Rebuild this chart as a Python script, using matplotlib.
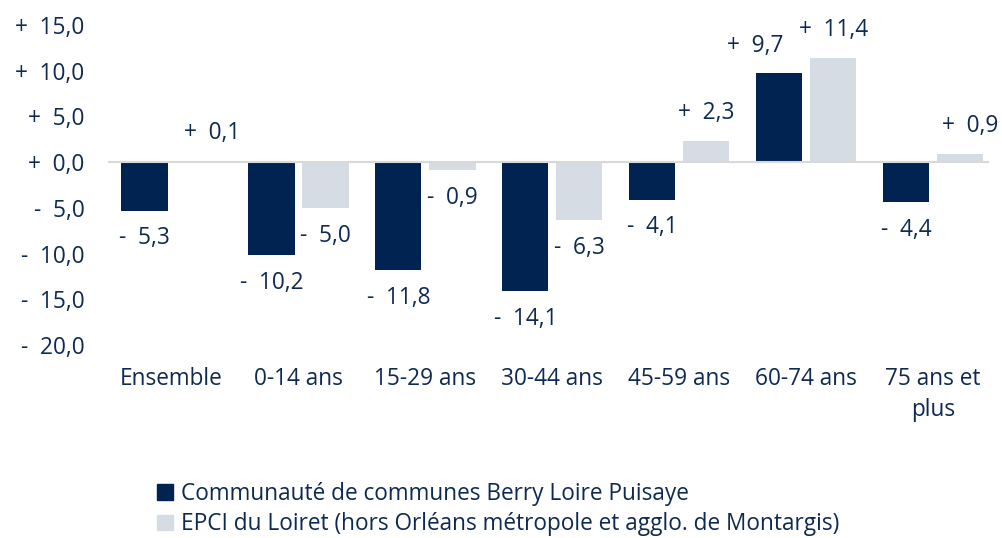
import numpy as np
import matplotlib.pyplot as plt
from matplotlib.patches import Patch

categories = ["Ensemble", "0-14 ans", "15-29 ans", "30-44 ans", "45-59 ans", "60-74 ans", "75 ans et\nplus"]
berry_loire = [-5.3, -10.2, -11.8, -14.1, -4.1, 9.7, -4.4]
epci_loiret = [0.1, -5.0, -0.9, -6.3, 2.3, 11.4, 0.9]
series_names = ["Communauté de communes Berry Loire Puisaye",
                "EPCI du Loiret (hors Orléans métropole et agglo. de Montargis)"]
yticks = [15, 10, 5, 0, -5, -10, -15, -20]

DARK = "#002352"
LIGHT = "#d6dce4"
TEXT = "#0f2a52"
FS = 16.3

plt.rcParams['font.family'] = ['Open Sans', 'DejaVu Sans']


def fmt(v):
    sign = "+" if v >= 0 else "-"
    return f"{sign}  {abs(v):.1f}".replace(".", ",")


fig = plt.figure(figsize=(10.03, 5.38), dpi=100)
ax = fig.add_axes([0.1077, 0.3587, 0.886, 0.5948])

x = np.arange(len(categories))
w = 0.364
off = 0.213
b1 = ax.bar(x - off, berry_loire, w, color=DARK)
b2 = ax.bar(x + off, epci_loiret, w, color=LIGHT)

# small horizontal nudges (points) for labels moved aside to avoid overlaps
nudge = {(0, 0): 10, (0, 6): 7, (1, 5): -17}
for k, (bars, vals) in enumerate(((b1, berry_loire), (b2, epci_loiret))):
    for i, (b, v) in enumerate(zip(bars, vals)):
        dy = 20 if v >= 0 else -20
        ax.annotate(fmt(v), (b.get_x() + b.get_width() / 2, v),
                    xytext=(nudge.get((1 - k, i), 0), dy), textcoords="offset points",
                    ha="center", va="center", fontsize=FS, color=TEXT)

ax.axhline(0, color="#d9d9d9", lw=1.5, xmin=0, xmax=0.99)
ax.set_xlim(-0.5, 6.5)
ax.set_ylim(-20, 15)
ax.set_yticks(yticks)
ax.set_yticklabels([fmt(v) for v in yticks])
ax.set_xticks(x)
ax.set_xticklabels(categories, linespacing=1.35)
ax.tick_params(axis="y", length=0, pad=17, labelsize=FS, labelcolor=TEXT)
ax.tick_params(axis="x", length=0, pad=16, labelsize=FS, labelcolor=TEXT)
for s in ax.spines.values():
    s.set_visible(False)

handles = [Patch(color=DARK), Patch(color=LIGHT)]
fig.legend(handles, series_names, loc="upper left", bbox_to_anchor=(0.157, 0.104),
           frameon=False, fontsize=FS, labelcolor=TEXT, handlelength=0.7, handleheight=0.7,
           handletextpad=0.35, labelspacing=0.28, borderaxespad=0, borderpad=0)

fig.savefig("out.png", dpi=100)
